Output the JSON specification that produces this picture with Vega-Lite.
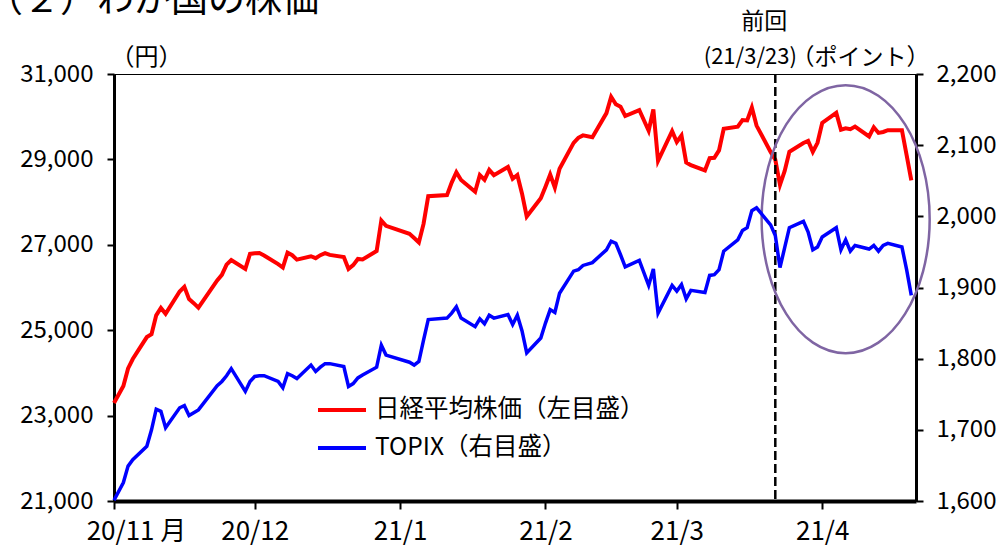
{
  "$schema": "https://vega.github.io/schema/vega-lite/v6.json",
  "width": 802,
  "height": 427,
  "autosize": {"type": "none"},
  "padding": {"left": 114, "top": 74, "right": 91, "bottom": 49},
  "background": "white",
  "config": {
    "font": "Noto Sans CJK JP",
    "view": {"stroke": "#000", "strokeWidth": 1},
    "axis": {"grid": false, "domainColor": "#000", "tickColor": "#000", "labelColor": "#000", "titleColor": "#000", "labelFont": "Noto Sans CJK JP", "titleFont": "Noto Sans CJK JP", "titleFontWeight": "normal"}
  },
  "title": {"text": "（２）わが国の株価", "anchor": "start", "frame": "group", "fontSize": 37, "font": "Noto Sans CJK JP", "fontWeight": "normal", "color": "#000", "dx": -128, "dy": 40, "offset": 2, "baseline": "alphabetic"},
  "data": {"values": [
    {"d": "2020-11-02", "n": 23295, "t": 1601},
    {"d": "2020-11-04", "n": 23695, "t": 1626},
    {"d": "2020-11-05", "n": 24105, "t": 1649},
    {"d": "2020-11-06", "n": 24325, "t": 1658},
    {"d": "2020-11-09", "n": 24839, "t": 1677},
    {"d": "2020-11-10", "n": 24905, "t": 1700},
    {"d": "2020-11-11", "n": 25349, "t": 1729},
    {"d": "2020-11-12", "n": 25520, "t": 1726},
    {"d": "2020-11-13", "n": 25385, "t": 1703},
    {"d": "2020-11-16", "n": 25906, "t": 1731},
    {"d": "2020-11-17", "n": 26014, "t": 1734},
    {"d": "2020-11-18", "n": 25728, "t": 1720},
    {"d": "2020-11-19", "n": 25634, "t": 1724},
    {"d": "2020-11-20", "n": 25527, "t": 1728},
    {"d": "2020-11-24", "n": 26165, "t": 1762},
    {"d": "2020-11-25", "n": 26296, "t": 1768},
    {"d": "2020-11-26", "n": 26537, "t": 1776},
    {"d": "2020-11-27", "n": 26644, "t": 1786},
    {"d": "2020-11-30", "n": 26433, "t": 1754},
    {"d": "2020-12-01", "n": 26787, "t": 1768},
    {"d": "2020-12-02", "n": 26800, "t": 1775},
    {"d": "2020-12-03", "n": 26809, "t": 1776},
    {"d": "2020-12-04", "n": 26751, "t": 1776},
    {"d": "2020-12-07", "n": 26547, "t": 1768},
    {"d": "2020-12-08", "n": 26467, "t": 1759},
    {"d": "2020-12-09", "n": 26817, "t": 1779},
    {"d": "2020-12-10", "n": 26756, "t": 1776},
    {"d": "2020-12-11", "n": 26652, "t": 1772},
    {"d": "2020-12-14", "n": 26732, "t": 1791},
    {"d": "2020-12-15", "n": 26687, "t": 1782},
    {"d": "2020-12-16", "n": 26757, "t": 1788},
    {"d": "2020-12-17", "n": 26806, "t": 1793},
    {"d": "2020-12-18", "n": 26763, "t": 1793},
    {"d": "2020-12-21", "n": 26714, "t": 1789},
    {"d": "2020-12-22", "n": 26436, "t": 1761},
    {"d": "2020-12-23", "n": 26524, "t": 1765},
    {"d": "2020-12-24", "n": 26668, "t": 1773},
    {"d": "2020-12-25", "n": 26656, "t": 1777},
    {"d": "2020-12-28", "n": 26854, "t": 1788},
    {"d": "2020-12-29", "n": 27568, "t": 1819},
    {"d": "2020-12-30", "n": 27444, "t": 1805},
    {"d": "2021-01-04", "n": 27258, "t": 1795},
    {"d": "2021-01-05", "n": 27158, "t": 1791},
    {"d": "2021-01-06", "n": 27055, "t": 1796},
    {"d": "2021-01-07", "n": 27490, "t": 1826},
    {"d": "2021-01-08", "n": 28139, "t": 1855},
    {"d": "2021-01-12", "n": 28164, "t": 1857},
    {"d": "2021-01-13", "n": 28456, "t": 1864},
    {"d": "2021-01-14", "n": 28698, "t": 1873},
    {"d": "2021-01-15", "n": 28519, "t": 1857},
    {"d": "2021-01-18", "n": 28242, "t": 1845},
    {"d": "2021-01-19", "n": 28633, "t": 1856},
    {"d": "2021-01-20", "n": 28523, "t": 1849},
    {"d": "2021-01-21", "n": 28756, "t": 1861},
    {"d": "2021-01-22", "n": 28631, "t": 1857},
    {"d": "2021-01-25", "n": 28822, "t": 1862},
    {"d": "2021-01-26", "n": 28546, "t": 1848},
    {"d": "2021-01-27", "n": 28635, "t": 1861},
    {"d": "2021-01-28", "n": 28197, "t": 1839},
    {"d": "2021-01-29", "n": 27663, "t": 1808},
    {"d": "2021-02-01", "n": 28091, "t": 1829},
    {"d": "2021-02-02", "n": 28362, "t": 1850},
    {"d": "2021-02-03", "n": 28646, "t": 1869},
    {"d": "2021-02-04", "n": 28341, "t": 1865},
    {"d": "2021-02-05", "n": 28779, "t": 1892},
    {"d": "2021-02-08", "n": 29388, "t": 1923},
    {"d": "2021-02-09", "n": 29505, "t": 1925},
    {"d": "2021-02-10", "n": 29562, "t": 1931},
    {"d": "2021-02-12", "n": 29520, "t": 1935},
    {"d": "2021-02-15", "n": 30084, "t": 1953},
    {"d": "2021-02-16", "n": 30467, "t": 1965},
    {"d": "2021-02-17", "n": 30292, "t": 1962},
    {"d": "2021-02-18", "n": 30236, "t": 1946},
    {"d": "2021-02-19", "n": 30017, "t": 1929},
    {"d": "2021-02-22", "n": 30156, "t": 1938},
    {"d": "2021-02-24", "n": 29671, "t": 1903},
    {"d": "2021-02-25", "n": 30168, "t": 1926},
    {"d": "2021-02-26", "n": 28966, "t": 1864},
    {"d": "2021-03-01", "n": 29663, "t": 1903},
    {"d": "2021-03-02", "n": 29408, "t": 1895},
    {"d": "2021-03-03", "n": 29559, "t": 1904},
    {"d": "2021-03-04", "n": 28930, "t": 1884},
    {"d": "2021-03-05", "n": 28864, "t": 1896},
    {"d": "2021-03-08", "n": 28743, "t": 1893},
    {"d": "2021-03-09", "n": 29028, "t": 1917},
    {"d": "2021-03-10", "n": 29036, "t": 1918},
    {"d": "2021-03-11", "n": 29211, "t": 1925},
    {"d": "2021-03-12", "n": 29717, "t": 1951},
    {"d": "2021-03-15", "n": 29766, "t": 1967},
    {"d": "2021-03-16", "n": 29921, "t": 1980},
    {"d": "2021-03-17", "n": 29914, "t": 1984},
    {"d": "2021-03-18", "n": 30216, "t": 2008},
    {"d": "2021-03-19", "n": 29792, "t": 2012},
    {"d": "2021-03-22", "n": 29174, "t": 1988},
    {"d": "2021-03-23", "n": 28995, "t": 1973},
    {"d": "2021-03-24", "n": 28405, "t": 1928},
    {"d": "2021-03-25", "n": 28729, "t": 1956},
    {"d": "2021-03-26", "n": 29176, "t": 1984},
    {"d": "2021-03-29", "n": 29384, "t": 1993},
    {"d": "2021-03-30", "n": 29432, "t": 1978},
    {"d": "2021-03-31", "n": 29178, "t": 1953},
    {"d": "2021-04-01", "n": 29388, "t": 1957},
    {"d": "2021-04-02", "n": 29854, "t": 1971},
    {"d": "2021-04-05", "n": 30089, "t": 1984},
    {"d": "2021-04-06", "n": 29696, "t": 1953},
    {"d": "2021-04-07", "n": 29730, "t": 1967},
    {"d": "2021-04-08", "n": 29708, "t": 1951},
    {"d": "2021-04-09", "n": 29768, "t": 1959},
    {"d": "2021-04-12", "n": 29538, "t": 1954},
    {"d": "2021-04-13", "n": 29751, "t": 1959},
    {"d": "2021-04-14", "n": 29620, "t": 1951},
    {"d": "2021-04-15", "n": 29642, "t": 1959},
    {"d": "2021-04-16", "n": 29683, "t": 1962},
    {"d": "2021-04-19", "n": 29685, "t": 1957},
    {"d": "2021-04-20", "n": 29100, "t": 1925},
    {"d": "2021-04-21", "n": 28508, "t": 1889}
  ]},
  "layer": [
    {
      "layer": [
        {
          "mark": {"type": "line", "color": "#ff0000", "strokeWidth": 4},
          "encoding": {
            "x": {
              "field": "d", "type": "temporal", "title": null,
              "scale": {"type": "utc", "domain": [{"year": 2020, "month": 11, "date": 2, "utc": true}, {"year": 2021, "month": 4, "date": 22, "utc": true}]},
              "axis": {
                "values": [
                  {"year": 2020, "month": 11, "date": 2, "utc": true},
                  {"year": 2020, "month": 12, "date": 2, "utc": true},
                  {"year": 2021, "month": 1, "date": 2, "utc": true},
                  {"year": 2021, "month": 2, "date": 2, "utc": true},
                  {"year": 2021, "month": 3, "date": 2, "utc": true},
                  {"year": 2021, "month": 4, "date": 2, "utc": true}
                ],
                "format": "%y/%-m",
                "labelExpr": "utcmonth(datum.value) == 10 ? '20/11 月' : datum.label",
                "labelFlush": false,
                "labelOverlap": false,
                "labelFontSize": 26,
                "labelPadding": 9,
                "labelOffset": {"condition": {"test": "utcmonth(datum.value) == 10", "value": 22}, "value": 0},
                "tickSize": 8,
                "tickWidth": 2,
                "domainWidth": 4
              }
            },
            "y": {
              "field": "n", "type": "quantitative",
              "scale": {"domain": [21000, 31000], "nice": false, "zero": false},
              "axis": {
                "title": "（円）", "titleAngle": 0, "titleX": -4, "titleY": -17, "titleAlign": "left", "titleBaseline": "middle", "titleFontSize": 24,
                "values": [21000, 23000, 25000, 27000, 29000, 31000],
                "format": ",d",
                "labelFontSize": 24, "labelPadding": 14, "tickSize": 7, "tickWidth": 2, "domainWidth": 3
              }
            },
            "color": {
              "datum": "日経平均株価（左目盛）",
              "scale": {"domain": ["日経平均株価（左目盛）", "TOPIX（右目盛）"], "range": ["#ff0000", "#0000ff"]},
              "legend": {
                "title": null, "orient": "none", "legendX": 202, "legendY": 310,
                "symbolType": "stroke", "symbolSize": 2304, "symbolStrokeWidth": 4,
                "labelFontSize": 24.5, "labelFont": "Noto Sans CJK JP", "labelColor": "#000", "labelOffset": 7, "labelLimit": 500,
                "rowPadding": -1, "padding": 0
              }
            }
          }
        },
        {
          "data": {"values": [{}]},
          "mark": {"type": "rule", "strokeDash": [9, 4], "strokeWidth": 2.5, "color": "#000"},
          "encoding": {"x": {"datum": {"year": 2021, "month": 3, "date": 23, "utc": true}, "type": "temporal"}}
        },
        {
          "data": {"values": [{}]},
          "mark": {"type": "point", "shape": "M0,-1C0.346,-1,0.627,-0.552,0.627,0C0.627,0.552,0.346,1,0,1C-0.346,1,-0.627,0.552,-0.627,0C-0.627,-0.552,-0.346,-1,0,-1Z", "size": 71824, "filled": false, "stroke": "#7F65A3", "strokeWidth": 2.5, "opacity": 1},
          "encoding": {
            "x": {"datum": {"year": 2021, "month": 4, "date": 7, "utc": true}, "type": "temporal"},
            "y": {"datum": 27600, "type": "quantitative"}
          }
        },
        {
          "data": {"values": [{}]},
          "mark": {"type": "text", "text": "前回", "fontSize": 23, "align": "center", "baseline": "middle", "dx": -11, "color": "#000"},
          "encoding": {
            "x": {"datum": {"year": 2021, "month": 3, "date": 23, "utc": true}, "type": "temporal"},
            "y": {"datum": 32216, "type": "quantitative"}
          }
        },
        {
          "data": {"values": [{}]},
          "mark": {"type": "text", "text": "(21/3/23)", "fontSize": 22, "align": "center", "baseline": "middle", "dx": -25, "color": "#000"},
          "encoding": {
            "x": {"datum": {"year": 2021, "month": 3, "date": 23, "utc": true}, "type": "temporal"},
            "y": {"datum": 31398, "type": "quantitative"}
          }
        }
      ]
    },
    {
      "mark": {"type": "line", "color": "#0000ff", "strokeWidth": 3.5},
      "encoding": {
        "x": {"field": "d", "type": "temporal", "title": null},
        "y": {
          "field": "t", "type": "quantitative",
          "scale": {"domain": [1600, 2200], "nice": false, "zero": false},
          "axis": {
            "orient": "right",
            "title": "（ポイント）", "titleAngle": 0, "titleX": 13, "titleY": -17, "titleAlign": "right", "titleBaseline": "middle", "titleFontSize": 23,
            "values": [1600, 1700, 1800, 1900, 2000, 2100, 2200],
            "format": ",d",
            "labelFontSize": 24, "labelPadding": 13, "tickSize": 7, "tickWidth": 2, "domainWidth": 3
          }
        },
        "color": {"datum": "TOPIX（右目盛）"}
      }
    }
  ],
  "resolve": {"scale": {"y": "independent"}, "axis": {"y": "independent"}}
}
